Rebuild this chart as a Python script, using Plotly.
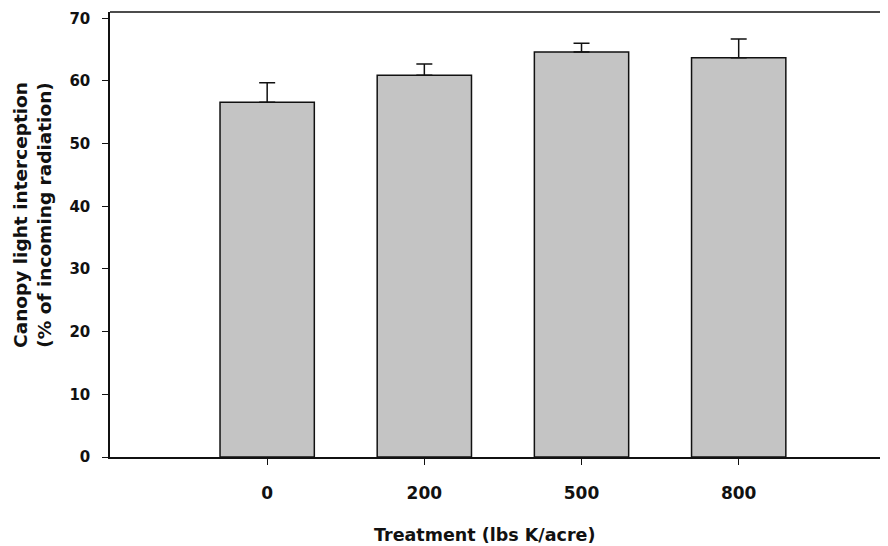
import plotly.graph_objects as go

categories = ["0", "200", "500", "800"]
interception = [56.6, 60.9, 64.6, 63.7]
error_upper = [3.1, 1.8, 1.4, 3.0]
y_ticks = [0, 10, 20, 30, 40, 50, 60, 70]

fig = go.Figure()
fig.add_trace(go.Bar(
    x=list(range(len(categories))),
    y=interception,
    width=0.6,
    marker=dict(color="#c4c4c4", line=dict(color="#111111", width=1.5)),
    error_y=dict(type="data", symmetric=False, array=error_upper,
                 arrayminus=[0] * len(error_upper),
                 color="#111111", thickness=1.5, width=8),
))

font = dict(family="DejaVu Sans, sans-serif", size=16, color="#111111")
# the page body has an 8px margin, so the figure is sized to fit the window
fig.update_layout(
    width=880, height=538,
    margin=dict(l=102, r=0, t=4, b=89),
    plot_bgcolor="white", paper_bgcolor="white",
    showlegend=False,
    font=font,
    xaxis=dict(
        range=[-1, 3.95],
        tickmode="array",
        tickvals=list(range(len(categories))),
        ticktext=["<b>%s</b>" % c for c in categories],
        ticks="outside", ticklen=6, tickcolor="#111111",
        ticklabelstandoff=14,
        showline=True, linecolor="#111111", linewidth=1.5,
        mirror=False, showgrid=False, zeroline=False,
        automargin=False,
        tickfont=dict(size=17),
    ),
    yaxis=dict(
        range=[0, 71],
        tickmode="array",
        tickvals=y_ticks,
        ticktext=["<b>%d</b>" % v for v in y_ticks],
        ticks="outside", ticklen=6, tickcolor="#111111",
        ticklabelstandoff=9,
        showline=True, linecolor="#111111", linewidth=1.5,
        showgrid=False, zeroline=False,
        automargin=False,
        tickfont=dict(size=15),
    ),
    annotations=[
        dict(text="<b>Treatment (lbs K/acre)</b>", xref="paper", yref="paper",
             x=0.482, y=0, xanchor="center", yanchor="middle", yshift=-78,
             showarrow=False, font=dict(size=17.5)),
        dict(text="<b>Canopy light interception<br>(% of incoming radiation)</b>",
             xref="paper", yref="paper", x=0, y=0.544, xanchor="center",
             yanchor="middle", xshift=-77, textangle=-90,
             showarrow=False, font=dict(size=18.5)),
    ],
)
# top frame line
fig.add_shape(type="line", xref="paper", yref="paper", x0=0, x1=1, y0=1, y1=1,
              line=dict(color="#111111", width=1.5))

fig.write_html("out.html")
